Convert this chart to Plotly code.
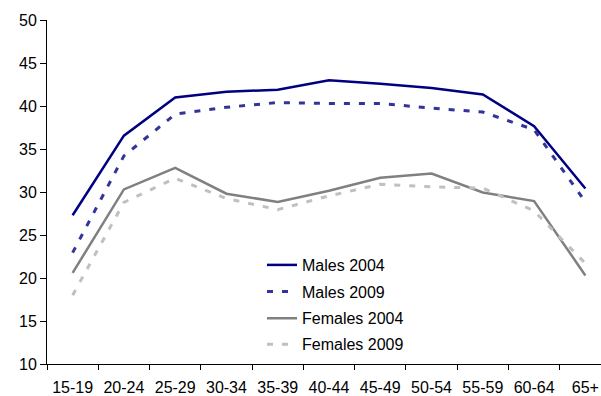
import plotly.graph_objects as go

age_groups = ["15-19", "20-24", "25-29", "30-34", "35-39", "40-44",
              "45-49", "50-54", "55-59", "60-64", "65+"]
males_2004 = [27.3, 36.55, 41.0, 41.65, 41.9, 43.0, 42.6, 42.1, 41.35, 37.65, 30.4]
males_2009 = [22.95, 34.2, 39.05, 39.85, 40.4, 40.3, 40.3, 39.75, 39.3, 37.25, 28.85]
females_2004 = [20.6, 30.3, 32.8, 29.8, 28.85, 30.15, 31.65, 32.15, 29.95, 28.95, 20.3]
females_2009 = [18.0, 28.8, 31.6, 29.25, 27.95, 29.55, 30.9, 30.6, 30.45, 27.8, 21.7]
y_ticks = [10, 15, 20, 25, 30, 35, 40, 45, 50]
title_text = "Figure 4: Hours working each week per adult worker by sex and broad age group"

FONT = "Liberation Sans, Arial, sans-serif"

series = [
    ("Males 2004", males_2004, "#000080", "solid", 2.5, "legend"),
    ("Males 2009", males_2009, "#333399", "6px,9px", 3, "legend2"),
    ("Females 2004", females_2004, "#808080", "solid", 2.5, "legend3"),
    ("Females 2009", females_2009, "#C0C0C0", "6px,9px", 3, "legend4"),
]

fig = go.Figure()
for name, vals, color, dash, width, leg in series:
    fig.add_trace(go.Scatter(
        x=age_groups, y=vals, name=name, mode="lines",
        line=dict(color=color, width=width, dash=dash),
        legend=leg,
    ))

L, T, PW, PH = 47, 20, 554, 344
leg_rows = [265, 291.7, 318.3, 344.3]
leg_left = 262

def leg(py):
    return dict(
        x=(leg_left - L) / PW, xanchor="left",
        y=(T + PH - py) / PH, yanchor="middle",
        bgcolor="rgba(0,0,0,0)", borderwidth=0,
        font=dict(family=FONT, size=16, color="#000000"),
        itemwidth=30,
    )

fig.update_layout(
    width=601, height=396,
    margin=dict(l=L, r=0, t=T, b=396 - T - PH, autoexpand=False),
    paper_bgcolor="white", plot_bgcolor="white",
    font=dict(family=FONT, size=16, color="#000000"),
    showlegend=True,
    legend=leg(leg_rows[0]),
    legend2=leg(leg_rows[1]),
    legend3=leg(leg_rows[2]),
    legend4=leg(leg_rows[3]),
    xaxis=dict(
        type="category", range=[-0.5, 10.305], automargin=False,
        showline=True, linecolor="#000000", linewidth=1,
        ticks="outside", ticklen=5, tickcolor="#000000", tickwidth=1,
        tickson="boundaries", showgrid=False, zeroline=False,
        tickfont=dict(family=FONT, size=16, color="#000000"),
        ticklabelstandoff=9,
    ),
    yaxis=dict(
        range=[10, 50], tickvals=y_ticks, automargin=False,
        showline=True, linecolor="#000000", linewidth=1,
        ticks="outside", ticklen=6, tickcolor="#000000", tickwidth=1,
        showgrid=False, zeroline=False,
        tickfont=dict(family=FONT, size=16, color="#000000"),
    ),
    annotations=[dict(
        text="<b>" + title_text + "</b>",
        xref="paper", yref="paper", x=(17.5 - L) / PW, y=1,
        xanchor="left", yanchor="bottom", yshift=18,
        showarrow=False,
        font=dict(family="Liberation Serif, Times New Roman, serif", size=18, color="#000000"),
    )],
)

fig.write_html("out.html")
